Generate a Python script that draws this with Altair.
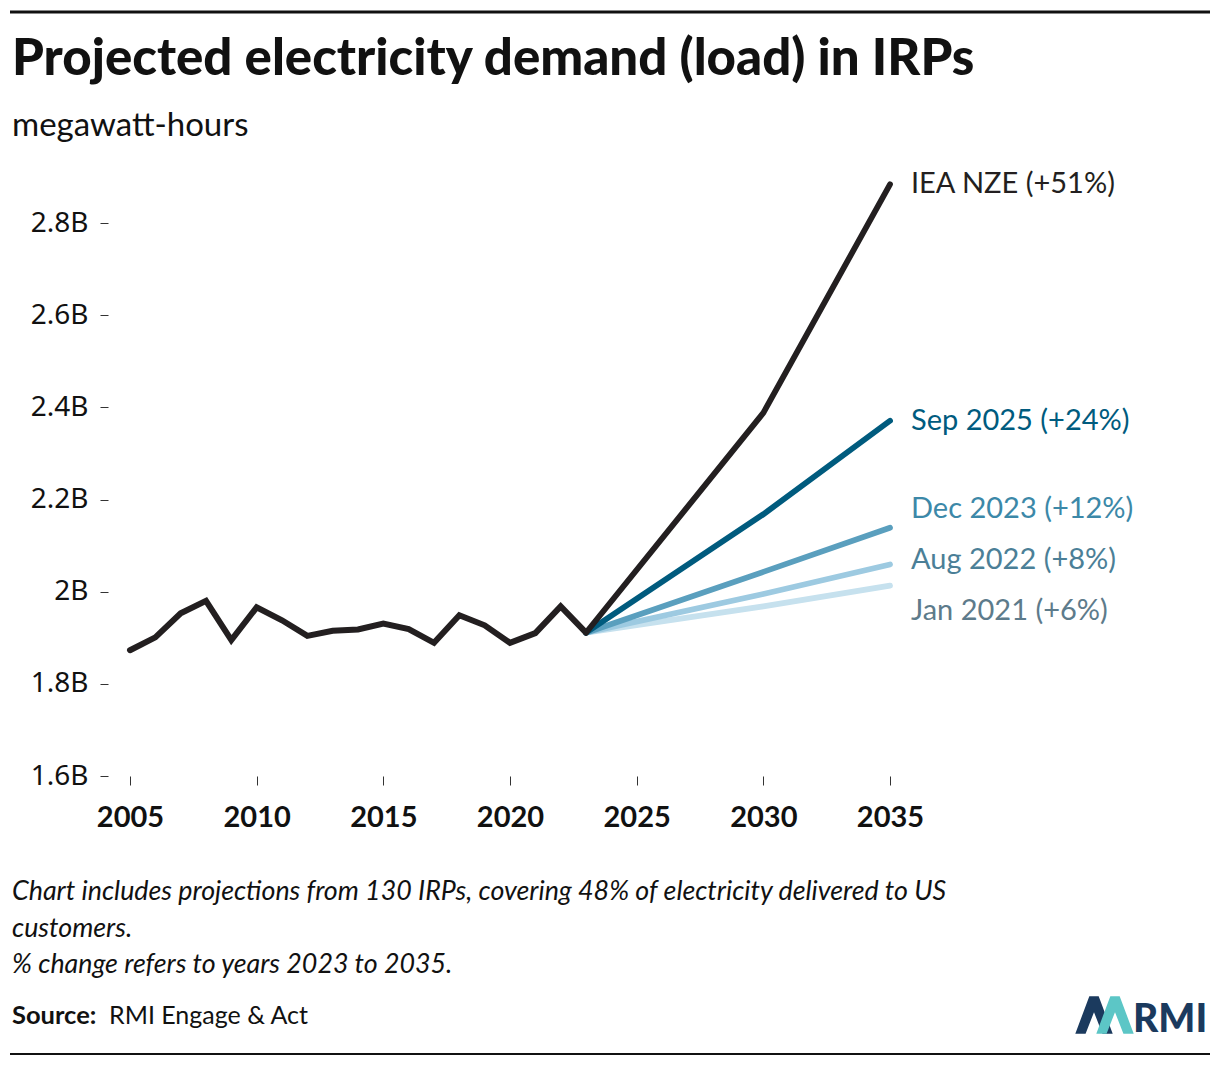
import altair as alt
import pandas as pd

# ---------------- data ----------------
hist_years = list(range(2005, 2024))
hist_values = [1.873, 1.901, 1.953, 1.980, 1.895, 1.966, 1.938, 1.904, 1.915, 1.918,
               1.931, 1.919, 1.889, 1.949, 1.927, 1.889, 1.910, 1.968, 1.911]

proj_years = [2023, 2030, 2035]
series_names = ["Jan 2021", "Aug 2022", "Dec 2023", "Sep 2025", "IEA NZE"]
series_labels = ["Jan 2021 (+6%)", "Aug 2022 (+8%)", "Dec 2023 (+12%)",
                 "Sep 2025 (+24%)", "IEA NZE (+51%)"]
proj_values = {
    "Jan 2021": [1.911, 1.968, 2.013],
    "Aug 2022": [1.911, 1.995, 2.059],
    "Dec 2023": [1.911, 2.043, 2.139],
    "Sep 2025": [1.911, 2.168, 2.371],
    "IEA NZE":  [1.911, 2.388, 2.884],
}

y_ticks = [1.6, 1.8, 2.0, 2.2, 2.4, 2.6, 2.8]
x_ticks = [2005, 2010, 2015, 2020, 2025, 2030, 2035]

title_text = "Projected electricity demand (load) in IRPs"
subtitle_text = "megawatt-hours"
notes = ["Chart includes projections from 130 IRPs, covering 48% of electricity delivered to US",
         "customers.",
         "% change refers to years 2023 to 2035."]

# ---------------- styles ----------------
line_colors = {"Jan 2021": "#c6e1ee", "Aug 2022": "#9dcae1", "Dec 2023": "#5a9fbe",
               "Sep 2025": "#005b7e", "IEA NZE": "#231f20"}
label_colors = {"Jan 2021": "#5d7b8b", "Aug 2022": "#4b7f97", "Dec 2023": "#3c88a8",
                "Sep 2025": "#005b7e", "IEA NZE": "#231f20"}
label_dy = {"Jan 2021": 25, "Aug 2022": -5, "Dec 2023": -19, "Sep 2025": 0, "IEA NZE": 0}

W, H = 760, 599

xscale = alt.Scale(domain=[2005, 2035], nice=False, zero=False)
yscale = alt.Scale(domain=[1.6, 2.9], nice=False, zero=False)

xaxis = alt.Axis(values=x_ticks, format="d", title=None, grid=False, domain=False,
                 tickSize=9, tickColor="#333333", labelFont="Lato", labelFontWeight="bold",
                 labelFontSize=29, labelColor="#111111", labelPadding=18,
                 labelFlush=False, labelOverlap=False, labelBound=False)
yaxis = alt.Axis(values=y_ticks, labelExpr="format(datum.value, '.1~f') + 'B'", title=None,
                 grid=False, domain=False, tickSize=8, tickColor="#333333", offset=22,
                 labelFont="Noto Sans", labelFontSize=28, labelColor="#111111", labelPadding=12,
                 labelFlush=False, labelOverlap=False)

layers = []

hist_df = pd.DataFrame({"year": hist_years, "value": hist_values})
base_hist = alt.Chart(hist_df).mark_line(color="#231f20", strokeWidth=6, strokeCap="round",
                                         strokeJoin="miter").encode(
    x=alt.X("year:Q", scale=xscale, axis=xaxis),
    y=alt.Y("value:Q", scale=yscale, axis=yaxis),
)

for name in series_names:
    df = pd.DataFrame({"year": proj_years, "value": proj_values[name]})
    layers.append(
        alt.Chart(df).mark_line(color=line_colors[name], strokeWidth=5.8, strokeCap="round").encode(
            x=alt.X("year:Q", scale=xscale, axis=xaxis),
            y=alt.Y("value:Q", scale=yscale, axis=yaxis),
        )
    )

layers.append(base_hist)

for name, lab in zip(series_names, series_labels):
    df = pd.DataFrame({"year": [proj_years[-1]], "value": [proj_values[name][-1]], "label": [lab]})
    layers.append(
        alt.Chart(df).mark_text(align="left", baseline="middle", dx=21, dy=label_dy[name],
                                font="Lato", fontSize=29, color=label_colors[name]).encode(
            x=alt.X("year:Q", scale=xscale),
            y=alt.Y("value:Q", scale=yscale),
            text="label:N",
        )
    )

one = pd.DataFrame({"a": [0]})

# decorations: rules, title, notes, source, logo
layers.append(alt.Chart(one).mark_rule(color="#111111", strokeWidth=3).encode(
    x=alt.value(-120), x2=alt.value(1080), y=alt.value(-165)))
layers.append(alt.Chart(one).mark_rule(color="#111111", strokeWidth=2).encode(
    x=alt.value(-120), x2=alt.value(1080), y=alt.value(877)))

layers.append(alt.Chart(one).mark_text(align="left", baseline="alphabetic", font="Lato",
                                       fontWeight=900, fontSize=51, color="#111111").encode(
    x=alt.value(-118), y=alt.value(-102), text=alt.value(title_text)))
layers.append(alt.Chart(one).mark_text(align="left", baseline="alphabetic", font="Lato",
                                       fontSize=33, color="#111111").encode(
    x=alt.value(-118), y=alt.value(-41), text=alt.value(subtitle_text)))

for txt, yy in zip(notes, [723, 760, 796]):
    layers.append(alt.Chart(one).mark_text(align="left", baseline="alphabetic", font="Lato",
                                           fontStyle="italic", fontSize=26.8, color="#111111").encode(
        x=alt.value(-118), y=alt.value(yy), text=alt.value(txt)))

layers.append(alt.Chart(one).mark_text(align="left", baseline="alphabetic", font="Lato",
                                       fontWeight="bold", fontSize=25.5, color="#111111").encode(
    x=alt.value(-118), y=alt.value(847), text=alt.value("Source:")))
layers.append(alt.Chart(one).mark_text(align="left", baseline="alphabetic", font="Lato",
                                       fontSize=25, color="#111111").encode(
    x=alt.value(-21), y=alt.value(847), text=alt.value("RMI Engage & Act")))

chevron = "M -1 1 L -0.25 -1 L 0.25 -1 L 1 1 L 0.45 1 L 0 -0.15 L -0.45 1 Z"
layers.append(alt.Chart(one).mark_point(shape=chevron, filled=True, size=1400, color="#1b3a5e",
                                        opacity=1).encode(
    x=alt.value(964), y=alt.value(838)))
layers.append(alt.Chart(one).mark_point(shape=chevron, filled=True, size=1400, color="#5cc6c6",
                                        opacity=1).encode(
    x=alt.value(985), y=alt.value(838)))
layers.append(alt.Chart(one).mark_text(align="left", baseline="alphabetic", font="Lato",
                                       fontWeight=900, fontSize=39, color="#1b3a5e").encode(
    x=alt.value(1003), y=alt.value(855), text=alt.value("RMI")))

chart = alt.layer(*layers).properties(
    width=W, height=H,
    background="white",
    autosize=alt.AutoSizeParams(type="none"),
    padding={"left": 122, "top": 169, "right": 322, "bottom": 282},
).configure_view(strokeWidth=0, stroke=None)

chart.save("out.html", embed_options={"renderer": "svg", "actions": False})
